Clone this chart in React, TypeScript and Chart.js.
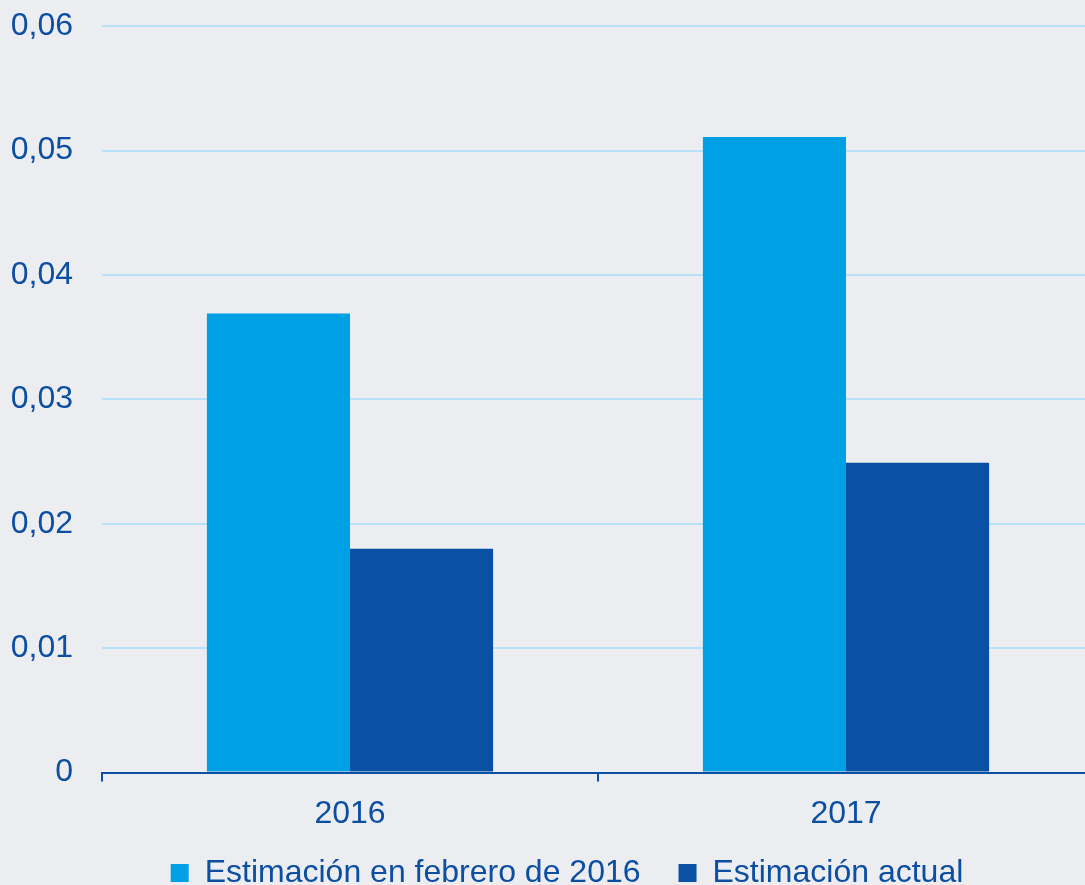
import React, { useEffect, useRef } from "react";
import { Chart, registerables } from "chart.js";

Chart.register(...registerables);

const categories = ["2016", "2017"];
const estimacionFebrero2016 = [0.0369, 0.0511];
const estimacionActual = [0.018, 0.0249];
const yTicks = [0, 0.01, 0.02, 0.03, 0.04, 0.05, 0.06];

const TEXT = "#0b4ea2";
const LIGHT = "#00a0e4";
const DARK = "#0a50a4";
const GRID = "#b5e2f6";
const BG = "#ecedf0";
const FONT = "'Liberation Sans', Arial, sans-serif";

const W = 1134;
const H = 948;
const SHIFT_UP = 22;
const LEGEND_LIFT = 27;

const legendLift = {
  id: "legendLift",
  afterLayout(chart: any) {
    const lg = chart.legend;
    if (lg) {
      lg.top -= LEGEND_LIFT;
      lg.bottom -= LEGEND_LIFT;
    }
  },
};

export default function App() {
  const ref = useRef<HTMLCanvasElement | null>(null);

  useEffect(() => {
    document.body.style.margin = "0";
    const canvas = ref.current;
    if (!canvas) return;
    const chart = new Chart(canvas, {
      type: "bar",
      data: {
        labels: categories,
        datasets: [
          {
            label: "Estimación en febrero de 2016",
            data: estimacionFebrero2016,
            backgroundColor: LIGHT,
            borderWidth: 0,
            barPercentage: 1,
            categoryPercentage: 0.577,
          },
          {
            label: "Estimación actual",
            data: estimacionActual,
            backgroundColor: DARK,
            borderWidth: 0,
            barPercentage: 1,
            categoryPercentage: 0.577,
          },
        ],
      },
      plugins: [legendLift],
      options: {
        responsive: false,
        animation: false,
        layout: { padding: { top: 10, right: 0, left: 0, bottom: 0 } },
        plugins: {
          tooltip: { enabled: false },
          legend: {
            position: "bottom",
            labels: {
              color: TEXT,
              font: { family: FONT, size: 32 },
              boxWidth: 18,
              boxHeight: 18,
              padding: 38,
            },
          },
        },
        scales: {
          x: {
            grid: {
              display: true,
              drawOnChartArea: false,
              drawTicks: true,
              tickLength: 9,
              color: DARK,
              lineWidth: 2,
              offset: true,
            },
            border: { display: true, color: DARK, width: 2 },
            ticks: {
              color: TEXT,
              font: { family: FONT, size: 32 },
              padding: 13,
            },
          },
          y: {
            min: 0,
            max: 0.06,
            afterBuildTicks: (axis: any) => {
              axis.ticks = yTicks.map((v) => ({ value: v }));
            },
            afterFit: (axis: any) => {
              axis.width = 102;
            },
            grid: {
              color: GRID,
              lineWidth: 2,
              drawTicks: false,
            },
            border: { display: false },
            ticks: {
              color: TEXT,
              font: { family: FONT, size: 32 },
              padding: 29,
              callback: (v: any) =>
                Number(v) === 0 ? "0" : Number(v).toFixed(2).replace(".", ","),
            },
          },
          yRightSpace: {
            type: "linear",
            position: "right",
            display: true,
            grid: { display: false, drawTicks: false },
            border: { display: false },
            ticks: { display: false },
            afterFit: (axis: any) => {
              axis.width = W - 1094;
            },
          },
        },
      },
    });
    return () => chart.destroy();
  }, []);

  return (
    <div
      style={{
        position: "absolute",
        left: 0,
        top: 0,
        width: 1085,
        height: 885,
        overflow: "hidden",
        background: BG,
      }}
    >
      <canvas
        ref={ref}
        width={W}
        height={H}
        style={{ display: "block", position: "absolute", left: 0, top: -SHIFT_UP }}
      />
    </div>
  );
}
